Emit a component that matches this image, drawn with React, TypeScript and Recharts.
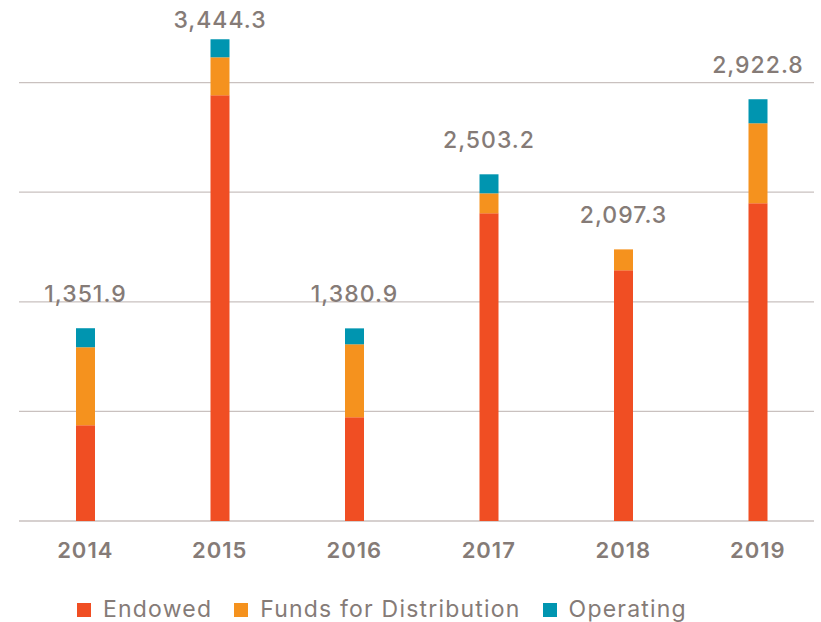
import React from 'react';
import { BarChart, Bar, XAxis, YAxis, CartesianGrid, LabelList, Legend } from 'recharts';

const years = ['2014', '2015', '2016', '2017', '2018', '2019'];
const endowed = [685, 3045, 742, 2201, 1793, 2273];
const funds = [558, 272, 522, 143, 150, 572];
const operating = [136, 129, 114, 136, 0, 172];
const totals = [1351.9, 3444.3, 1380.9, 2503.2, 2097.3, 2922.8];
const gridTicks = [0, 784, 1568, 2352, 3136];
const seriesNames = ['Endowed', 'Funds for Distribution', 'Operating'];
const seriesColors = ['#F04E23', '#F5921E', '#0095B0'];

const data = years.map((y, i) => ({
  year: y,
  endowed: endowed[i],
  funds: funds[i],
  operating: operating[i],
  total: totals[i],
}));

const TEXT = '#857B77';
const FONT = 'Inter, "Noto Sans", sans-serif';

const fmt = (v: number) =>
  v.toLocaleString('en-US', { minimumFractionDigits: 1, maximumFractionDigits: 1 });

// Label drawn on the Endowed (bottom) segment; the stack top is found from the
// segment's own scaled height, so the label sits above the whole stacked bar.
const TotalLabel = (props: any) => {
  const { x, y, width, height, index } = props;
  const d = data[index];
  if (!d) return null;
  const pxPerUnit = Number(height) / d.endowed;
  const top = Number(y) - (d.funds + d.operating) * pxPerUnit;
  const baseline = Math.max(top - 26, 28);
  return (
    <text
      x={Number(x) + Number(width) / 2}
      y={baseline}
      textAnchor="middle"
      fill={TEXT}
      fontFamily={FONT}
      fontSize={23}
      fontWeight={500}
      letterSpacing={1}
    >
      {fmt(d.total)}
    </text>
  );
};

const renderLegend = (props: any) => {
  const payload = props.payload || [];
  return (
    <div style={{ display: 'flex', alignItems: 'center', fontFamily: FONT, whiteSpace: 'nowrap' }}>
      {payload.map((p: any, i: number) => (
        <div key={i} style={{ display: 'flex', alignItems: 'center', marginRight: 22 }}>
          <span style={{ display: 'inline-block', width: 14, height: 14, background: p.color, marginRight: 12 }} />
          <span style={{ fontSize: 23, lineHeight: '23px', color: TEXT, letterSpacing: 1.2 }}>{p.value}</span>
        </div>
      ))}
    </div>
  );
};

const GridLine = (p: any) => (
  <line
    key={p.key}
    x1={p.x1 + 1}
    x2={p.x2 - 11}
    y1={p.y1}
    y2={p.y2}
    stroke="#C9C1BF"
    strokeWidth={1.3}
  />
);

export default function App() {
  return (
    <div style={{ position: 'absolute', left: 0, top: 0, width: 821, height: 622, background: '#fff', fontFamily: FONT }}>
      <BarChart
        width={821}
        height={622}
        data={data}
        margin={{ top: 17.73, right: -4, bottom: 0, left: 18 }}
      >
        <CartesianGrid vertical={false} horizontal={GridLine} horizontalValues={gridTicks} />
        <YAxis hide domain={[0, 3600]} ticks={gridTicks} />
        <XAxis
          dataKey="year"
          axisLine={false}
          tickLine={false}
          height={101}
          tickMargin={15}
          tick={{ fill: TEXT, fontSize: 22, fontWeight: 600, fontFamily: FONT, letterSpacing: 1 }}
        />
        <Legend
          verticalAlign="middle"
          align="center"
          layout="horizontal"
          wrapperStyle={{ left: 77, top: 598, width: 'auto' }}
          content={renderLegend}
        />
        <Bar dataKey="endowed" name={seriesNames[0]} stackId="a" fill={seriesColors[0]} barSize={19} isAnimationActive={false}>
          <LabelList dataKey="endowed" content={TotalLabel} />
        </Bar>
        <Bar dataKey="funds" name={seriesNames[1]} stackId="a" fill={seriesColors[1]} barSize={19} isAnimationActive={false} />
        <Bar dataKey="operating" name={seriesNames[2]} stackId="a" fill={seriesColors[2]} barSize={19} isAnimationActive={false} />
      </BarChart>
    </div>
  );
}
